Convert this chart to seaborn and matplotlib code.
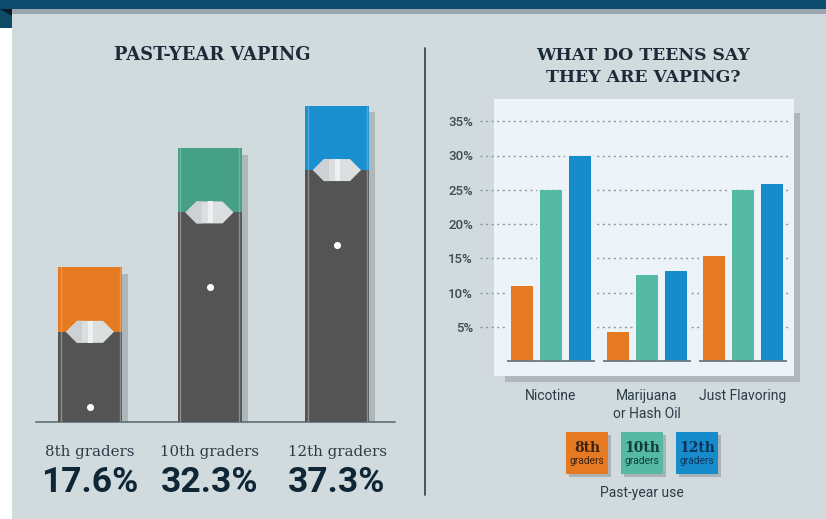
import matplotlib
matplotlib.use("Agg")
import matplotlib.pyplot as plt
from matplotlib.patches import Rectangle, Polygon
import numpy as np
import pandas as pd
import seaborn as sns

# ---- data ----
grades = ["8th graders", "10th graders", "12th graders"]
past_year_labels = ["17.6%", "32.3%", "37.3%"]
pod_heights = [18.2, 32.3, 37.3]          # height of each drawn pod (as in the picture)
grade_colors = ["#e67a22", "#46a085", "#1a8fd0"]

substances = ["Nicotine", "Marijuana\nor Hash Oil", "Just Flavoring"]
short_grades = ["8th", "10th", "12th"]
nicotine = [11.0, 25.0, 30.0]
marijuana = [4.3, 12.5, 13.2]
flavoring = [15.3, 25.0, 25.9]
bar_colors = ["#e67a22", "#55b9a3", "#178ccb"]
pct_ticks = [5, 10, 15, 20, 25, 30, 35]

# ---- layout helpers (pixels) ----
W, H = 826, 519
INK = "#1c2b38"
SLATE = "#2c3c47"
PANEL = "#edf4f9"
sns.set_theme(style="white")
plt.rcParams["font.family"] = ["Roboto", "DejaVu Sans"]

fig = plt.figure(figsize=(W / 100, H / 100), dpi=100, facecolor="#d1dbde")


def px_axes(x0, y0, x1, y1, **kw):
    return fig.add_axes([x0 / W, 1 - y1 / H, (x1 - x0) / W, (y1 - y0) / H], **kw)


# background layer
bg = px_axes(0, 0, W, H, zorder=0)
bg.set_xlim(0, W)
bg.set_ylim(H, 0)
bg.axis("off")
bg.add_patch(Rectangle((0, 0), W, 9, color="#0d4a6c", lw=0))
bg.add_patch(Rectangle((0, 9), W, 4.5, color="#98a4ae", lw=0))
bg.add_patch(Rectangle((0, 28), 12, H - 28, color="white", lw=0))
bg.add_patch(Rectangle((0, 9), 12, 19, color="#0f4a66", lw=0))
bg.add_patch(Polygon([(0, 9), (12, 9), (12, 16)], color="#0b1a24", lw=0))
bg.plot([425, 425], [48, 495], color="#3b4951", lw=1.3)
bg.add_patch(Rectangle((505, 113), 295, 269, color="#b0b8bc", lw=0))
bg.add_patch(Rectangle((494, 99), 300, 277, color=PANEL, lw=0))

# ---- left chart: pods ----
centers = np.array([90.0, 209.5, 337.0])
body_w = 64.0
px_per_pct = 8.47
base_px = 421.5
cap = 64.5 / px_per_pct
dot_drop = 75 / px_per_pct
hex_half = 11 / px_per_pct

left = px_axes(36, 90, 395, base_px, zorder=2)
left.patch.set_alpha(0)
frame = pd.DataFrame({"pos": centers, "grade": grades, "h": pod_heights})
bodies = frame.assign(h=frame["h"] - cap)

left.bar(centers + 6, np.array(pod_heights) - 0.8, width=body_w, color="#aeb7ba", lw=0, zorder=1)
sns.barplot(data=frame, x="pos", y="h", hue="grade", palette=grade_colors, native_scale=True,
            width=body_w / 119.5, saturation=1, legend=False, edgecolor="none", linewidth=0, ax=left, zorder=2)
sns.barplot(data=bodies, x="pos", y="h", color="#545454", native_scale=True,
            width=body_w / 119.5, saturation=1, legend=False, edgecolor="none", linewidth=0, ax=left, zorder=3)

for c, h in zip(centers, pod_heights):
    b = h - cap
    for sx in (-1, 1):
        left.vlines(c + sx * 29.5, 0, b, color="#8d8d8d", lw=1.0, zorder=4)
        left.vlines(c + sx * 29.5, b, h, color="white", alpha=0.22, lw=1.0, zorder=4)
    left.add_patch(Polygon([(c - 24, b), (c - 13, b + hex_half), (c + 13, b + hex_half), (c + 24, b),
                            (c + 13, b - hex_half), (c - 13, b - hex_half)],
                           color="#dcdfe0", lw=0, zorder=5))
    left.add_patch(Polygon([(c - 24, b), (c - 13, b + hex_half), (c - 8, b + hex_half), (c - 8, b - hex_half),
                            (c - 13, b - hex_half)], color="#cdd1d3", lw=0, zorder=6))
    left.add_patch(Rectangle((c - 2, b - hex_half), 5, 2 * hex_half, color="#eef0f1", lw=0, zorder=6))
    left.scatter([c], [b - dot_drop], s=26, color="white", lw=0, zorder=6)

left.set_xlim(36, 395)
left.set_ylim(0, (base_px - 90) / px_per_pct)
left.set_xlabel("")
left.set_ylabel("")
left.set_yticks([])
left.set_xticks(centers, grades, fontfamily="DejaVu Serif", fontsize=10.8, color=SLATE)
left.tick_params(axis="x", length=0, pad=17)
for s in ("top", "left", "right"):
    left.spines[s].set_visible(False)
left.spines["bottom"].set_color("#56656d")
left.spines["bottom"].set_linewidth(1.1)

# ---- right chart: grouped bars ----
right = px_axes(480, 115, 790, 361, zorder=2)
right.patch.set_alpha(0)
long = pd.DataFrame({
    "substance": np.repeat(substances, 3),
    "grade": short_grades * 3,
    "pct": nicotine + marijuana + flavoring,
})
# panel-coloured halo that interrupts the dotted grid beside the bars, then the bars themselves
sns.barplot(data=long, x="substance", y="pct", hue="grade", order=substances, hue_order=short_grades,
            palette=[PANEL] * 3, saturation=1, width=0.893, gap=0, legend=False,
            edgecolor="none", linewidth=0, ax=right, zorder=2.5)
sns.barplot(data=long, x="substance", y="pct", hue="grade", order=substances, hue_order=short_grades,
            palette=bar_colors, saturation=1, width=0.893, gap=0.23, legend=False,
            edgecolor="none", linewidth=0, ax=right, zorder=3)
right.set_xlim((480 - 551) / 96, (790 - 551) / 96)
right.set_ylim(0, (361 - 115) / 6.85)
right.set_xlabel("")
right.set_ylabel("")
right.set_yticks(pct_ticks, [f"{t}%" for t in pct_ticks], fontsize=9.5, fontweight="medium", color="#3d4c55")
right.set_xticks(range(3), substances, fontsize=10, color=SLATE, linespacing=1.4)
right.tick_params(axis="y", length=0, pad=5)
right.tick_params(axis="x", length=0, pad=20)
right.grid(axis="y", color="#8b979d", lw=1.0, linestyle=(0, (1.5, 2.5)))
right.set_axisbelow(True)
for s in right.spines.values():
    s.set_visible(False)
for i in range(3):
    right.hlines(0, i - 0.46, i + 0.46, color="#6c7a82", lw=1.3, zorder=4, clip_on=False)

# ---- foreground text and legend ----
fg = px_axes(0, 0, W, H, zorder=5)
fg.set_xlim(0, W)
fg.set_ylim(H, 0)
fg.axis("off")
fg.patch.set_alpha(0)
title_kw = dict(family="DejaVu Serif", fontweight="bold", fontsize=12.4, color=INK, ha="center", va="center")
fg.text(212, 55, "PAST-YEAR VAPING", **{**title_kw, "fontsize": 12.9})
fg.text(643, 55.5, "WHAT DO TEENS SAY", **title_kw)
fg.text(643, 78, "THEY ARE VAPING?", **title_kw)
for c, t in zip(centers, past_year_labels):
    fg.text(c, 483, t, fontsize=25.5, fontweight="bold", color="#0f2636", ha="center", va="center")

swatch_x = [566, 621, 676]
legend_ink = ["#3a2412", "#103d36", "#0b3560"]
for x, col, g, ink in zip(swatch_x, bar_colors, short_grades, legend_ink):
    fg.add_patch(Rectangle((x + 3, 435), 42, 42, color="#aab2b6", lw=0))
    fg.add_patch(Rectangle((x, 432), 42, 42, color=col, lw=0))
    fg.text(x + 21, 448, g, family="DejaVu Serif", fontweight="bold", fontsize=10, color=ink, ha="center", va="center")
    fg.text(x + 21, 461.5, "graders", fontsize=7.4, color=ink, ha="center", va="center")
fg.text(642, 492.5, "Past-year use", fontsize=10, color=SLATE, ha="center", va="center")

fig.savefig("out.png", dpi=100)
